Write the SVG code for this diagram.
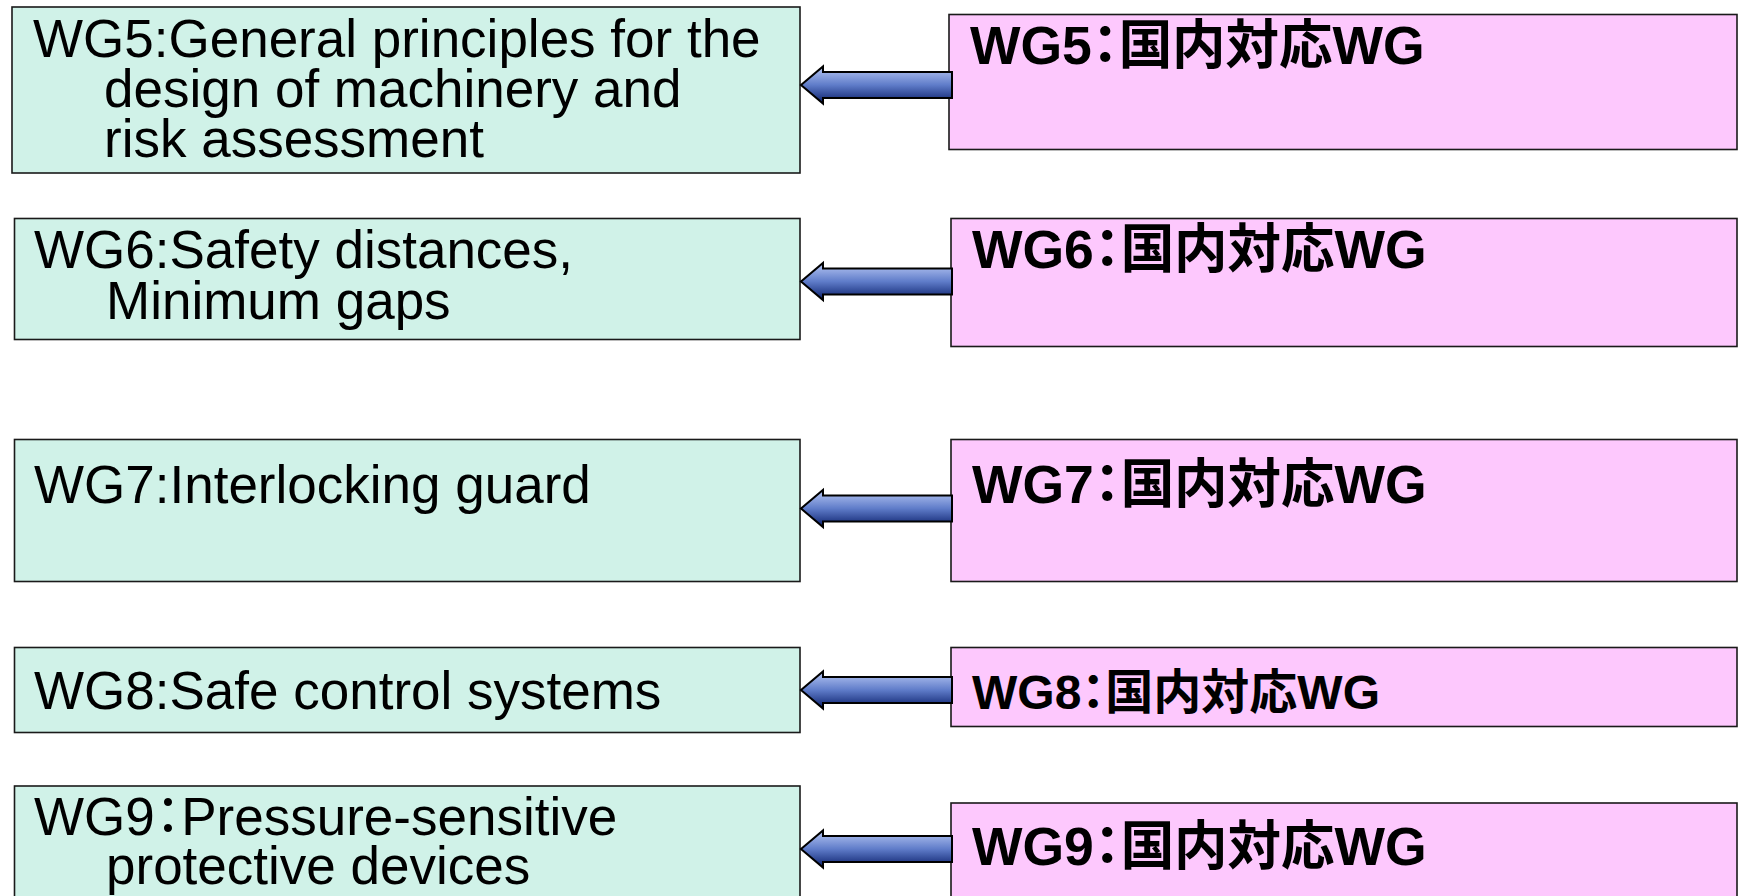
<svg xmlns="http://www.w3.org/2000/svg" width="1748" height="896" viewBox="0 0 1748 896">
<style>
.l{fill:#d0f2e8;stroke:#1a1a1a;stroke-width:1.6}
.p{fill:#fdc8fd;stroke:#1a1a1a;stroke-width:1.6}
.t{font-family:"Liberation Sans","Noto Sans CJK JP",sans-serif;font-size:53px;fill:#000}
.b{font-family:"Liberation Sans","Noto Sans CJK JP",sans-serif;font-size:53.5px;font-weight:bold;fill:#000}
.c{font-family:"Noto Sans CJK JP",sans-serif;font-feature-settings:"palt"}
.a{fill:url(#g);stroke:#000;stroke-width:2;stroke-linejoin:miter}
</style>
<defs>
<linearGradient id="g" x1="0" y1="0" x2="0" y2="1">
<stop offset="0" stop-color="#b8c8f4"/>
<stop offset="0.5" stop-color="#5f7cc9"/>
<stop offset="1" stop-color="#0a1f6b"/>
</linearGradient>
<path id="arr" d="M801,0 L823,-18.5 L823,-13 L952,-13 L952,13 L823,13 L823,18.5 Z"/>
</defs>

<g id="wg5">
<rect class="l" x="12" y="7" width="788" height="166"/>
<text class="t" x="33" y="57">WG5:General principles for the</text>
<text class="t" x="104" y="107">design of machinery and</text>
<text class="t" x="104" y="157">risk assessment</text>
</g>
<g id="wg5jp">
<rect class="p" x="949" y="14.5" width="788" height="135"/>
<text class="b" x="970" y="64">WG5<tspan class="c">：</tspan>国内対応WG</text>
</g>

<g id="wg6">
<rect class="l" x="14.5" y="218.5" width="785.5" height="121"/>
<text class="t" x="34" y="268">WG6:Safety distances,</text>
<text class="t" x="106" y="319">Minimum gaps</text>
</g>
<g id="wg6jp">
<rect class="p" x="951" y="218.5" width="786" height="128"/>
<text class="b" x="972" y="268">WG6<tspan class="c">：</tspan>国内対応WG</text>
</g>

<g id="wg7">
<rect class="l" x="14.5" y="439.5" width="785.5" height="142"/>
<text class="t" x="34" y="503">WG7:Interlocking guard</text>
</g>
<g id="wg7jp">
<rect class="p" x="951" y="439.5" width="786" height="142"/>
<text class="b" x="972" y="503">WG7<tspan class="c">：</tspan>国内対応WG</text>
</g>

<g id="wg8">
<rect class="l" x="14.5" y="647.5" width="785.5" height="85"/>
<text class="t" x="34" y="709">WG8:Safe control systems</text>
</g>
<g id="wg8jp">
<rect class="p" x="951" y="647.5" width="786" height="79"/>
<text class="b" x="972" y="709" style="font-size:48px">WG8<tspan class="c">：</tspan>国内対応WG</text>
</g>

<g id="wg9">
<rect class="l" x="14.5" y="786" width="785.5" height="120"/>
<text class="t" x="34" y="835">WG9<tspan class="c">：</tspan>Pressure-sensitive</text>
<text class="t" x="106" y="884">protective devices</text>
</g>
<g id="wg9jp">
<rect class="p" x="951" y="803" width="786" height="110"/>
<text class="b" x="972" y="865">WG9<tspan class="c">：</tspan>国内対応WG</text>
</g>

<g id="connectors">
<use href="#arr" class="a" y="85"/>
<use href="#arr" class="a" y="281.5"/>
<use href="#arr" class="a" y="508.5"/>
<use href="#arr" class="a" y="690"/>
<use href="#arr" class="a" y="849"/>
</g>
</svg>
